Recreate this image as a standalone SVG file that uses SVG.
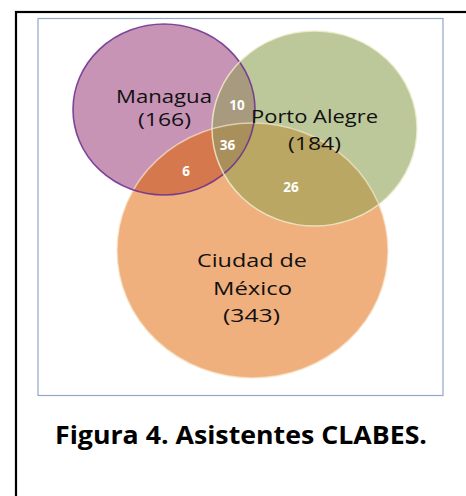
<svg xmlns="http://www.w3.org/2000/svg" width="466" height="496" viewBox="0 0 466 496">
<style>
.lbl{font-family:"Open Sans","Liberation Sans",sans-serif;font-size:18px;fill:#111111;text-anchor:middle}
.num{font-family:"Open Sans","Liberation Sans",sans-serif;font-size:13.5px;font-weight:bold;fill:#ffffff;text-anchor:middle}
.cap{font-family:"Open Sans","Liberation Sans",sans-serif;font-size:25px;font-weight:bold;fill:#000000;text-anchor:middle}
</style>
<defs>
<clipPath id="cM"><ellipse cx="164" cy="109.5" rx="91" ry="85.5"/></clipPath>
<clipPath id="cG"><ellipse cx="314.5" cy="128.5" rx="102.5" ry="97.5"/></clipPath>
<clipPath id="cC"><ellipse cx="252.5" cy="250.5" rx="135.5" ry="127.5"/></clipPath>
</defs>
<rect x="0" y="0" width="466" height="496" fill="#ffffff"/>
<rect x="16" y="12" width="520" height="520" fill="none" stroke="#000000" stroke-width="2.2"/>
<rect x="38" y="18.5" width="405" height="377" fill="none" stroke="#94A6C6" stroke-width="1.2"/>

<g id="ciudad">
<ellipse cx="252.5" cy="250.5" rx="135.5" ry="127.5" fill="#F0B07E"/>
</g>
<g id="managua">
<ellipse cx="164" cy="109.5" rx="91" ry="85.5" fill="#C894B6"/>
</g>
<g id="porto">
<ellipse cx="314.5" cy="128.5" rx="102.5" ry="97.5" fill="#BCC89A"/>
</g>

<g id="overlaps">
<g clip-path="url(#cM)"><ellipse cx="252.5" cy="250.5" rx="135.5" ry="127.5" fill="#D6784E"/></g>
<g clip-path="url(#cM)"><ellipse cx="314.5" cy="128.5" rx="102.5" ry="97.5" fill="#A89A7E"/></g>
<g clip-path="url(#cC)"><ellipse cx="314.5" cy="128.5" rx="102.5" ry="97.5" fill="#B9A763"/></g>
<g clip-path="url(#cM)"><g clip-path="url(#cC)"><ellipse cx="314.5" cy="128.5" rx="102.5" ry="97.5" fill="#A98F5C"/></g></g>
</g>

<g id="edges" fill="none">
<ellipse cx="252.5" cy="250.5" rx="135.5" ry="127.5" stroke="#F6E6CC" stroke-width="1.5" stroke-opacity="0.7"/>
<ellipse cx="164" cy="109.5" rx="91" ry="85.5" stroke="#6A2E8E" stroke-width="1.6" stroke-opacity="0.85"/>
<ellipse cx="314.5" cy="128.5" rx="102.5" ry="97.5" stroke="#F2EED2" stroke-width="1.5" stroke-opacity="0.8"/>
</g>

<g id="managua-label">
<text class="lbl" x="164" y="102.5" textLength="96" lengthAdjust="spacingAndGlyphs">Managua</text>
<text class="lbl" x="164.5" y="126" textLength="53" lengthAdjust="spacingAndGlyphs">(166)</text>
</g>
<g id="porto-label">
<text class="lbl" x="314.5" y="122.5" textLength="127" lengthAdjust="spacingAndGlyphs">Porto Alegre</text>
<text class="lbl" x="314.5" y="150" textLength="53" lengthAdjust="spacingAndGlyphs">(184)</text>
</g>
<g id="ciudad-label">
<text class="lbl" x="252" y="267" textLength="110" lengthAdjust="spacingAndGlyphs">Ciudad de</text>
<text class="lbl" x="252.5" y="295" textLength="79" lengthAdjust="spacingAndGlyphs">México</text>
<text class="lbl" x="251.5" y="321.5" textLength="57" lengthAdjust="spacingAndGlyphs">(343)</text>
</g>
<g id="counts">
<text class="num" x="237" y="109.5">10</text>
<text class="num" x="227.5" y="150">36</text>
<text class="num" x="186" y="176">6</text>
<text class="num" x="291" y="192">26</text>
</g>
<g id="caption">
<text class="cap" x="241" y="444" textLength="372" lengthAdjust="spacingAndGlyphs">Figura 4. Asistentes CLABES.</text>
</g>
</svg>
